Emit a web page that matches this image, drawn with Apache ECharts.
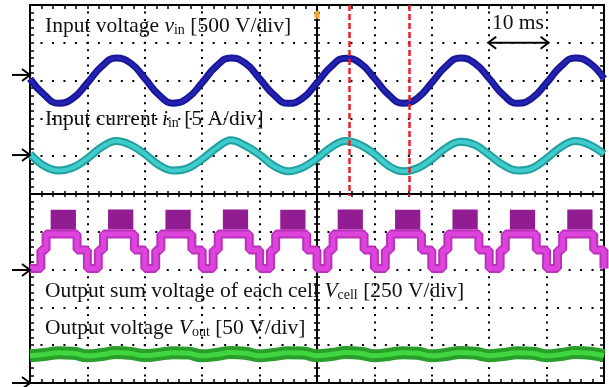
<!DOCTYPE html>
<html>
<head>
<meta charset="utf-8">
<title>Input / output waveforms</title>
<script src="https://cdn.jsdelivr.net/npm/echarts@6.0.0/dist/echarts.min.js"></script>
<style>
  html, body { margin: 0; padding: 0; background: #fff; }
  #main { width: 609px; height: 387px; }
</style>
</head>
<body>
<div id="main"></div>
<script>
// scope time base, ms (10 ms/div)
var timeMs = [0, 2.5, 5, 7.5, 10, 12.5, 15, 17.5, 20, 22.5, 25, 27.5, 30, 32.5, 35, 37.5,
  40, 42.5, 45, 47.5, 50, 52.5, 55, 57.5, 60, 62.5, 65, 67.5, 70, 72.5, 75, 77.5,
  80, 82.5, 85, 87.5, 90, 92.5, 95, 97.5, 100];
// input voltage, V
var vinData = [25, -190, -300, -232, -30, 188, 298, 233, 30, -192, -298, -228, -26, 193, 300, 230,
  27, -190, -301, -233, -29, 189, 297, 232, 31, -190, -299, -231, -27, 192, 300, 229,
  28, -193, -300, -230, -30, 190, 299, 233, 25];
// input current, A
var iinData = [0.3, -1.3, -1.9, -1.5, -0.3, 1.2, 2.0, 1.5, 0.3, -1.2, -1.9, -1.6, -0.4, 1.1, 2.1, 1.4,
  0.2, -1.3, -2.0, -1.5, -0.3, 1.2, 2.0, 1.5, 0.3, -1.3, -2.0, -1.6, -0.4, 1.1, 1.9, 1.5,
  0.2, -1.2, -1.9, -1.6, -0.3, 1.2, 2.0, 1.5, 0.3];
// output voltage, V
var voutData = [36.2, 37.8, 40.0, 39.4, 36.0, 37.6, 40.3, 39.2, 36.3, 37.9, 40.1, 39.5, 36.1, 37.7, 40.2, 39.3,
  36.0, 37.8, 40.0, 39.6, 36.2, 37.6, 40.2, 39.4, 36.1, 37.8, 40.1, 39.3, 36.0, 37.7, 40.3, 39.5,
  36.2, 37.8, 40.0, 39.4, 36.1, 37.6, 40.2, 39.3, 36.2];
// summed cell voltage staircase, [ms, V], each level held until the next point
var cellSteps = [
  [0, 8], [1.9, 130], [2.8, 235], [8.2, 130],
  [10, 8], [11.9, 130], [12.8, 235], [18.2, 130],
  [20, 8], [21.9, 130], [22.8, 235], [28.2, 130],
  [30, 8], [31.9, 130], [32.8, 235], [38.2, 130],
  [40, 8], [41.9, 130], [42.8, 235], [48.2, 130],
  [50, 8], [51.9, 130], [52.8, 235], [58.2, 130],
  [60, 8], [61.9, 130], [62.8, 235], [68.2, 130],
  [70, 8], [71.9, 130], [72.8, 235], [78.2, 130],
  [80, 8], [81.9, 130], [82.8, 235], [88.2, 130],
  [90, 8], [91.9, 130], [92.8, 235], [98.2, 130],
  [100, 8]
];
// PWM bursts at the top of each half cycle, [ms, V]
var cellBursts = [
  [3.6, 330], [8.0, 330], [8.0, null],
  [13.6, 332], [18.0, 332], [18.0, null],
  [23.6, 330], [28.0, 330], [28.0, null],
  [33.6, 332], [38.0, 332], [38.0, null],
  [43.6, 330], [48.0, 330], [48.0, null],
  [53.6, 332], [58.0, 332], [58.0, null],
  [63.6, 330], [68.0, 330], [68.0, null],
  [73.6, 332], [78.0, 332], [78.0, null],
  [83.6, 330], [88.0, 330], [88.0, null],
  [93.6, 332], [98.0, 332]
];
var cursorMs = [55.6, 66.0];
var spanMs = [80, 90];
// ground markers of the four channels, divisions from the bottom
var groundDiv = [8.15, 6.03, 2.99, 0];

// per-division scale, from the labels
var perDiv = { vin: 500, iin: 5, cell: 250, vout: 50 };
// trace centre, divisions from the bottom
var centre = { vin: 8.0, iin: 6.0, cell: 3.0, vout: 0 };

var FONT = 'Liberation Serif';

function sampled(list, key) {
  return timeMs.map(function (t, i) { return [t, centre[key] + list[i] / perDiv[key]]; });
}
function paired(list, key) {
  return list.map(function (p) {
    return [p[0], p[1] == null ? null : centre[key] + p[1] / perDiv[key]];
  });
}

function frameX(pos, offset, inside, len) {
  return {
    type: 'value', min: 0, max: 100, interval: 10, position: pos, offset: offset,
    axisLabel: { show: false }, splitLine: { show: false },
    axisLine: { onZero: false, lineStyle: { color: '#000', width: 2 } },
    axisTick: { inside: inside, length: len, lineStyle: { color: '#000', width: 1.5 } },
    minorTick: { show: true, splitNumber: 5, length: len, lineStyle: { color: '#000', width: 1.5 } }
  };
}
function frameY(pos, offset, inside, len) {
  return {
    type: 'value', min: 0, max: 10, interval: 1, position: pos, offset: offset,
    axisLabel: { show: false }, splitLine: { show: false },
    axisLine: { onZero: false, lineStyle: { color: '#000', width: 2 } },
    axisTick: { inside: inside, length: len, lineStyle: { color: '#000', width: 1.5 } },
    minorTick: { show: true, splitNumber: 5, length: len, lineStyle: { color: '#000', width: 1.5 } }
  };
}

var xAxes = [frameX('bottom', 0, true, 4), frameX('top', 0, true, 4),
  frameX('bottom', -189, false, 3), frameX('top', -189, false, 3)];
xAxes[0].splitLine = { show: true, lineStyle: { color: '#000', width: 2, type: [2, 5.56], dashOffset: 1 } };
var yAxes = [frameY('left', 0, true, 4), frameY('right', 0, true, 4),
  frameY('left', -287, false, 3), frameY('right', -287, false, 3)];
yAxes[0].splitLine = { show: true, lineStyle: { color: '#000', width: 2, type: [2, 9.48], dashOffset: 1 } };

function trace(data, color, width, z, extra) {
  var s = {
    type: 'line', data: data, showSymbol: false, symbol: 'none', silent: true,
    lineStyle: { color: color, width: width }, z: z
  };
  for (var k in extra) s[k] = extra[k];
  return s;
}

var vinPts = sampled(vinData, 'vin');
var iinPts = sampled(iinData, 'iin');
var voutPts = sampled(voutData, 'vout');
var cellPts = paired(cellSteps, 'cell');
var burstPts = paired(cellBursts, 'cell');

var chart = echarts.init(document.getElementById('main'));
chart.setOption({
  animation: false,
  backgroundColor: '#fff',
  grid: { left: 30, right: 5, top: 5, bottom: 4, outerBoundsMode: 'none' },
  xAxis: xAxes,
  yAxis: yAxes,
  series: [
    trace(vinPts, '#17179a', 7, 3, {
      smooth: 0.5,
      markLine: {
        silent: true, symbol: ['none', 'none'], label: { show: false },
        lineStyle: { color: '#e8202a', width: 2.5, type: [6, 3] },
        data: cursorMs.map(function (t) { return [{ coord: [t, 10] }, { coord: [t, 4.95] }]; })
      }
    }),
    trace(vinPts, '#2424b0', 3, 4, { smooth: 0.5 }),
    trace(iinPts, '#22a0a0', 8, 3, { smooth: 0.4 }),
    trace(iinPts, '#40cccc', 4, 4, { smooth: 0.4 }),
    trace(burstPts, '#921c92', 20, 3, { connectNulls: false }),
    trace(cellPts, '#bd30bd', 9, 4, { step: 'end' }),
    trace(cellPts, '#dc44dc', 5, 5, { step: 'end' }),
    trace(voutPts, '#2a9e2a', 13, 3, { smooth: 0.5 }),
    trace(voutPts, '#3fd63f', 5, 4, { smooth: 0.5 })
  ]
});

function px(t, d) { return chart.convertToPixel({ gridIndex: 0 }, [t, d]); }

var graphics = [];
groundDiv.forEach(function (d) {
  var p = px(0, d);
  graphics.push({ type: 'line', z: 20, shape: { x1: 12, y1: p[1], x2: p[0], y2: p[1] }, style: { stroke: '#000', lineWidth: 2 } });
  graphics.push({ type: 'polyline', z: 20, shape: { points: [[p[0] - 8, p[1] - 6], [p[0], p[1]], [p[0] - 8, p[1] + 6]] }, style: { stroke: '#000', lineWidth: 2, fill: null } });
});

var a = px(spanMs[0], 9), b = px(spanMs[1], 9);
graphics.push({ type: 'line', z: 20, shape: { x1: a[0] - 1, y1: a[1], x2: b[0] + 2, y2: b[1] }, style: { stroke: '#000', lineWidth: 2 } });
graphics.push({ type: 'polyline', z: 20, shape: { points: [[a[0] + 7, a[1] - 6], [a[0] - 1, a[1]], [a[0] + 7, a[1] + 6]] }, style: { stroke: '#000', lineWidth: 2, fill: null } });
graphics.push({ type: 'polyline', z: 20, shape: { points: [[b[0] - 6, b[1] - 6], [b[0] + 2, b[1]], [b[0] - 6, b[1] + 6]] }, style: { stroke: '#000', lineWidth: 2, fill: null } });

var trig = px(50, 9.74);
graphics.push({ type: 'rect', z: 20, shape: { x: trig[0] - 2.5, y: trig[1] - 4, width: 5, height: 8, r: 2.5 }, style: { fill: '#f2a531' } });

var rich = {
  i: { fontStyle: 'italic', fontSize: 21.5, fontFamily: FONT, fill: '#111' },
  s: { fontSize: 14, fontFamily: FONT, fill: '#111', padding: [9, 0, 0, 0] }
};
function label(text, x, y, align) {
  return {
    type: 'text', z: 30, x: x, y: y,
    style: {
      text: text, fill: '#111', fontSize: 21.5, fontFamily: FONT,
      align: align || 'left', verticalAlign: 'middle', rich: rich
    }
  };
}
graphics.push(label('Input voltage {i|v}{s|in} [500 V/div]', 45, 26));
graphics.push(label('Input current {i|i}{s|in} [5 A/div]', 45, 119));
graphics.push(label('Output sum voltage of each cell {i|V}{s|cell} [250 V/div]', 45, 291));
graphics.push(label('Output voltage {i|V}{s|out} [50 V/div]', 45, 328));
graphics.push(label('10 ms', (a[0] + b[0]) / 2, 23.5, 'center'));

chart.setOption({ graphic: graphics });
</script>
</body>
</html>
